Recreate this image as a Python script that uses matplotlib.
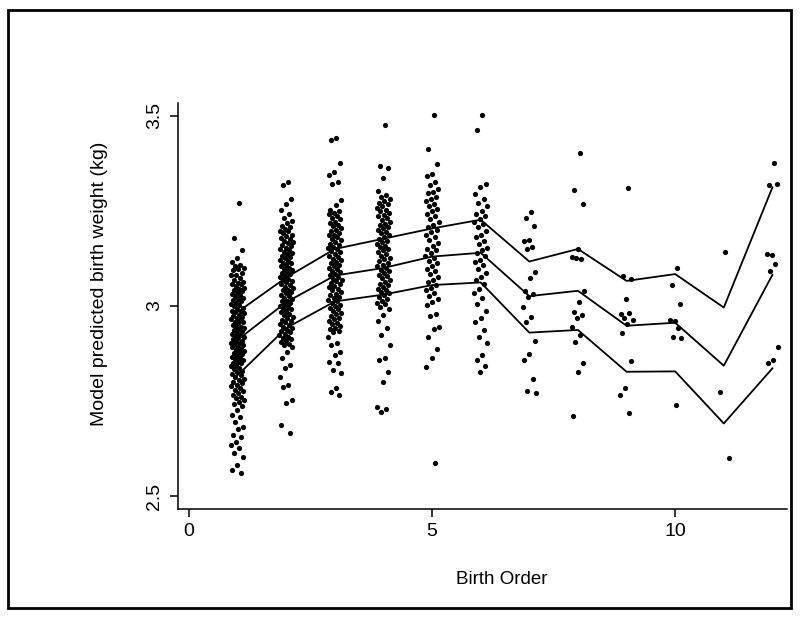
import matplotlib
matplotlib.use("Agg")
import matplotlib.pyplot as plt
import numpy as np
from matplotlib.patches import Rectangle

plt.rcParams['font.family'] = ['Liberation Sans', 'DejaVu Sans']

# ---------------- data ----------------
birth_order = [1, 2, 3, 4, 5, 6, 7, 8, 9, 10, 11, 12]
upper_line = [2.984, 3.075, 3.150, 3.177, 3.204, 3.227, 3.117, 3.150, 3.066, 3.084, 2.996, 3.312]
middle_line = [2.911, 3.010, 3.080, 3.100, 3.130, 3.140, 3.026, 3.040, 2.948, 2.956, 2.843, 3.082]
lower_line = [2.818, 2.942, 3.012, 3.030, 3.055, 3.062, 2.930, 2.937, 2.827, 2.828, 2.691, 2.836]

x_ticks = [0, 5, 10]
y_ticks = [2.5, 3.0, 3.5]
y_tick_labels = ['2.5', '3', '3.5']

w1 = [3.272, 3.179, 3.147, 3.126, 3.116, 3.109, 3.104,
      3.101, 3.097, 3.094, 3.086, 3.082, 3.081, 3.074, 3.069, 3.063, 3.061, 3.058, 3.057,
      3.052, 3.047, 3.046, 3.043, 3.039, 3.036, 3.031, 3.029, 3.026, 3.022, 3.018, 3.017,
      3.012, 3.009, 3.004, 3.003, 2.999, 2.995, 2.992, 2.988, 2.986, 2.983, 2.981, 2.977,
      2.975, 2.971, 2.968, 2.966, 2.963, 2.958, 2.957, 2.954, 2.951, 2.946, 2.944, 2.941,
      2.939, 2.936, 2.933, 2.929, 2.927, 2.925, 2.922, 2.918, 2.915, 2.913, 2.909, 2.906,
      2.903, 2.902, 2.898, 2.897, 2.893, 2.891, 2.887, 2.884, 2.881, 2.879, 2.876, 2.874,
      2.869, 2.866, 2.864, 2.861, 2.857, 2.853, 2.851, 2.849, 2.846, 2.842, 2.836, 2.834,
      2.829, 2.826, 2.821, 2.818, 2.814, 2.809, 2.806, 2.801, 2.797, 2.792, 2.789, 2.784,
      2.779, 2.776, 2.771, 2.765, 2.761, 2.757, 2.752, 2.748, 2.743,
      2.736, 2.727, 2.713, 2.708, 2.694, 2.683, 2.676, 2.661, 2.655, 2.641, 2.634, 2.627,
      2.612, 2.603, 2.581, 2.568, 2.561]

w2 = [3.326, 3.318, 3.281, 3.268, 3.252, 3.243, 3.232, 3.224, 3.219,
      3.211, 3.207, 3.203, 3.198, 3.196, 3.191, 3.187, 3.184, 3.179, 3.176, 3.171, 3.168,
      3.166, 3.161, 3.158, 3.153, 3.151, 3.147, 3.143, 3.139, 3.136, 3.132, 3.129, 3.126,
      3.121, 3.118, 3.114, 3.112, 3.108, 3.104, 3.101, 3.097, 3.094, 3.089, 3.087, 3.083,
      3.079, 3.076, 3.072, 3.068, 3.066, 3.062, 3.058, 3.054, 3.051, 3.047, 3.043, 3.041,
      3.037, 3.033, 3.029, 3.026, 3.021, 3.018, 3.014, 3.012, 3.008, 3.004, 3.001, 2.997,
      2.994, 2.991, 2.987, 2.983, 2.979, 2.976, 2.972, 2.968, 2.964, 2.961, 2.957, 2.953,
      2.949, 2.946, 2.942, 2.938, 2.934, 2.931, 2.927, 2.923, 2.919, 2.916, 2.912, 2.908,
      2.904, 2.901, 2.897, 2.893,
      2.879, 2.862, 2.846, 2.838, 2.812, 2.793, 2.786, 2.752, 2.745, 2.687, 2.666]

w3 = [3.441, 3.437, 3.376, 3.353, 3.345, 3.327, 3.321, 3.279, 3.266,
      3.253, 3.249, 3.244, 3.241, 3.236, 3.231, 3.228, 3.222, 3.219, 3.214, 3.211, 3.205,
      3.201, 3.198, 3.193, 3.188, 3.186, 3.181, 3.176, 3.173, 3.168, 3.164, 3.161, 3.156,
      3.152, 3.149, 3.144, 3.141, 3.137, 3.132, 3.129, 3.124, 3.121, 3.117, 3.112, 3.109,
      3.104, 3.101, 3.097, 3.092, 3.089, 3.085, 3.081, 3.077, 3.072, 3.069, 3.065, 3.061,
      3.057, 3.052, 3.049, 3.045, 3.041, 3.037, 3.032, 3.029, 3.024, 3.021, 3.016, 3.012,
      3.008, 3.003, 2.999, 2.995, 2.991, 2.986, 2.982, 2.978, 2.973, 2.969, 2.965, 2.961,
      2.956, 2.952, 2.947, 2.943, 2.939, 2.934, 2.931,
      2.918, 2.903, 2.898, 2.879, 2.871, 2.853, 2.849, 2.832, 2.824, 2.784, 2.774, 2.766]

w4 = [3.476, 3.367, 3.362, 3.338, 3.303,
      3.291, 3.286, 3.281, 3.277, 3.271, 3.268, 3.262, 3.258, 3.253, 3.249, 3.244, 3.239,
      3.236, 3.231, 3.226, 3.222, 3.217, 3.213, 3.208, 3.204, 3.199, 3.194, 3.191, 3.186,
      3.181, 3.177, 3.172, 3.168, 3.163, 3.159, 3.154, 3.149, 3.146, 3.141, 3.136, 3.132,
      3.127, 3.123, 3.118, 3.114, 3.109, 3.104, 3.101, 3.096, 3.091, 3.087, 3.082, 3.078,
      3.073, 3.069, 3.064, 3.059, 3.056, 3.051, 3.046, 3.042, 3.037, 3.033, 3.028, 3.023,
      3.019, 3.014, 3.009, 3.004, 2.998, 2.993,
      2.976, 2.961, 2.942, 2.924, 2.897, 2.862, 2.858, 2.827, 2.801, 2.735, 2.729, 2.722]

w5 = [3.503, 3.412, 3.373, 3.347, 3.341, 3.327, 3.318, 3.309, 3.301, 3.296, 3.288, 3.281,
      3.275, 3.268, 3.262, 3.255, 3.249, 3.241, 3.236, 3.228, 3.222, 3.214, 3.209, 3.201,
      3.194, 3.187, 3.181, 3.173, 3.166, 3.158, 3.151, 3.146, 3.139, 3.131, 3.126, 3.118,
      3.112, 3.104, 3.097, 3.091, 3.083, 3.076, 3.069, 3.062, 3.055, 3.048, 3.042, 3.034,
      3.027, 3.019, 3.011, 3.003, 2.979, 2.973, 2.946, 2.939, 2.918, 2.886, 2.862, 2.840,
      2.588]

w6 = [3.503, 3.462, 3.322, 3.313, 3.294, 3.281, 3.272, 3.262, 3.251, 3.243, 3.236, 3.229,
      3.221, 3.215, 3.208, 3.196, 3.188, 3.181, 3.172, 3.163, 3.152, 3.146, 3.139, 3.131,
      3.122, 3.116, 3.109, 3.098, 3.086, 3.077, 3.068, 3.057, 3.046, 3.034, 3.021, 3.006,
      2.988, 2.968, 2.959, 2.937, 2.919, 2.902, 2.871, 2.858, 2.841, 2.826]

w7 = [3.248, 3.232, 3.211, 3.174, 3.171, 3.155, 3.150, 3.090, 3.074, 3.040, 3.032, 3.024,
      2.997, 2.972, 2.958, 2.909, 2.874, 2.858, 2.808, 2.776, 2.771]

w8 = [3.403, 3.305, 3.268, 3.150, 3.130, 3.123, 3.126, 3.039, 3.011, 2.984, 2.976, 2.968,
      2.946, 2.924, 2.904, 2.849, 2.827, 2.711]

w9 = [3.310, 3.079, 3.070, 3.019, 2.979, 2.981, 2.968, 2.962, 2.953, 2.928, 2.855, 2.783,
      2.766, 2.718]

w10 = [3.099, 3.055, 3.005, 2.961, 2.963, 2.943, 2.919, 2.916, 2.739]

w11 = [3.142, 2.774, 2.601]

w12 = [3.377, 3.318, 3.321, 3.133, 3.136, 3.110, 3.091, 2.893, 2.858, 2.849]

# ---------------- figure ----------------
W, H = 800, 620
fig = plt.figure(figsize=(W / 100, H / 100), dpi=100)
ax_left, ax_right, ax_top, ax_bottom = 178, 787, 103, 509
ax = fig.add_axes([ax_left / W, (H - ax_bottom) / H,
                   (ax_right - ax_left) / W, (ax_bottom - ax_top) / H])

all_weights = [w1, w2, w3, w4, w5, w6, w7, w8, w9, w10, w11, w12]
for k, ws in zip(birth_order, all_weights):
    n = len(ws)
    jitter = (((np.arange(n) + 1) * 0.6180339887) % 1.0 - 0.5) * 0.28
    ax.scatter(k + jitter, ws, s=14, c='black', linewidths=0, zorder=3)

for series in (upper_line, middle_line, lower_line):
    ax.plot(birth_order, series, color='black', lw=1.3, zorder=4)

ax.set_xlim(-0.226, 12.30)
ax.set_ylim(2.466, 3.534)
ax.set_xticks(x_ticks)
ax.set_xticklabels([str(t) for t in x_ticks])
ax.set_yticks(y_ticks)
ax.set_yticklabels(y_tick_labels, rotation=90, va='center')

for s in ('top', 'right'):
    ax.spines[s].set_visible(False)
for s in ('left', 'bottom'):
    ax.spines[s].set_linewidth(1.1)
ax.tick_params(direction='out', length=6, width=1.1, labelsize=14, colors='black')
ax.tick_params(axis='x', pad=4)
ax.tick_params(axis='y', pad=5)

ax.set_xlabel('Birth Order', fontsize=13.5)
ax.set_ylabel('Model predicted birth weight (kg)', fontsize=14)
ax.xaxis.set_label_coords((502 - ax_left) / (ax_right - ax_left), (ax_bottom - 571) / (ax_bottom - ax_top))
ax.yaxis.set_label_coords((108 - ax_left) / (ax_right - ax_left), (ax_bottom - 284) / (ax_bottom - ax_top))

fig.patches.append(Rectangle((8 / W, (H - 608) / H), (791 - 8) / W, (608 - 10) / H,
                             transform=fig.transFigure, fill=False,
                             edgecolor='black', linewidth=2.0))

fig.savefig('out.png', dpi=100)
